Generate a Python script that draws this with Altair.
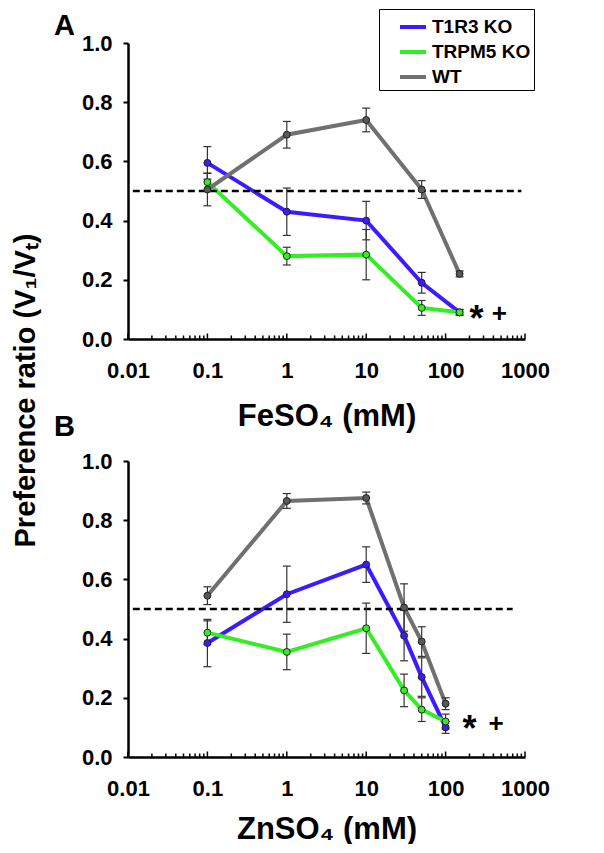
import altair as alt
import pandas as pd

FONT = "Liberation Sans"

# ---------------- data ----------------
genotypes = ["T1R3 KO", "TRPM5 KO", "WT"]
line_colors = ["#3b1cff", "#33ee22", "#707070"]
point_fills = ["#3b1cff", "#33ee22", "#585858"]

fe_conc = [0.1, 1, 10, 50, 150]
fe_t1r3 = [0.595, 0.43, 0.40, 0.19, 0.09]
fe_t1r3_sem = [0.055, 0.08, 0.065, 0.035, 0.01]
fe_trpm5 = [0.53, 0.28, 0.285, 0.105, 0.09]
fe_trpm5_sem = [0.03, 0.03, 0.085, 0.025, 0.008]
fe_wt = [0.505, 0.69, 0.74, 0.505, 0.22]
fe_wt_sem = [0.055, 0.045, 0.04, 0.03, 0.01]

zn_conc = [0.1, 1, 10, 30, 50, 100]
zn_t1r3 = [0.385, 0.55, 0.65, 0.41, 0.27, 0.10]
zn_t1r3_sem = [0.08, 0.095, 0.06, 0.085, 0.065, 0.02]
zn_trpm5 = [0.42, 0.355, 0.435, 0.225, 0.16, 0.12]
zn_trpm5_sem = [0.04, 0.06, 0.085, 0.055, 0.04, 0.025]
zn_wt = [0.545, 0.865, 0.875, 0.505, 0.39, 0.18]
zn_wt_sem = [0.03, 0.025, 0.02, 0.08, 0.05, 0.02]

ref_level = [0.5]
fe_ref_span = [0.0115, 900]
zn_ref_span = [0.0115, 700]

x_major = [0.01, 0.1, 1, 10, 100, 1000]
minor_mult = [2, 3, 4, 5, 6, 7, 8, 9]
y_ticks = [0.0, 0.2, 0.4, 0.6, 0.8, 1.0]

ann_symbols = ["*", "+"]
fe_ann_x = [200, 380]
fe_ann_y = [0.085, 0.085]
zn_ann_x = [163, 347]
zn_ann_y = [0.111, 0.111]

panel_letters = ["A", "B"]
x_titles = ["FeSO₄ (mM)", "ZnSO₄ (mM)"]
y_title = "Preference ratio (V₁/Vₜ)"

# ---------------- helpers ----------------
W, H = 397, 296


def make_df(conc, series):
    rows = []
    for g, (means, sems) in zip(genotypes, series):
        for c, m, s in zip(conc, means, sems):
            rows.append({"conc": c, "genotype": g, "mean": m, "lo": m - s, "hi": m + s})
    return pd.DataFrame(rows)


xs = alt.Scale(type="log", domain=[0.01, 1000], nice=False)
ys = alt.Scale(domain=[0, 1], nice=False, zero=False)
cs = alt.Scale(domain=genotypes, range=line_colors)
fs = alt.Scale(domain=genotypes, range=point_fills)


def X(field, axis=None):
    if axis is None:
        return alt.X(field, scale=xs)
    return alt.X(field, scale=xs, axis=axis)


def Y(field, axis=None):
    if axis is None:
        return alt.Y(field, scale=ys)
    return alt.Y(field, scale=ys, axis=axis)


def panel(df, ref_span, ann_x, ann_y, letter, xtitle, xtitle_y, letter_y, letter_baseline, first):
    x_axis = alt.Axis(
        values=x_major, format="~g", ticks=False, tickSize=0, labelPadding=21,
        labelFont=FONT, labelFontSize=22, labelFontWeight="bold", labelColor="black",
        labelFlush=False, labelOverlap=False, domainColor="black", domainWidth=2.5,
        grid=False, title=xtitle, titleFont=FONT, titleFontSize=31, titleFontWeight="bold",
        titleColor="black", titleY=xtitle_y, titleBaseline="alphabetic",
    )
    if first:
        y_axis = alt.Axis(
            values=y_ticks, format=".1f", tickSize=5, tickWidth=2, tickColor="black",
            labelPadding=11, labelFont=FONT, labelFontSize=22, labelFontWeight="bold",
            labelColor="black", labelFlush=False, domainColor="black", domainWidth=2.5,
            grid=False, title=y_title, titleAngle=270, titleX=-117, titleY=347,
            titleBaseline="top", titleAlign="center", titleFont=FONT, titleFontSize=29,
            titleFontWeight="bold", titleColor="black",
        )
        legend = alt.Legend(
            orient="none", legendX=251, legendY=-34, title=None, symbolType="stroke",
            symbolStrokeWidth=4, symbolSize=676, labelFont=FONT, labelFontSize=19,
            labelFontWeight="bold", labelColor="black", labelOffset=4, symbolOffset=16,
            padding=3, rowPadding=-5, strokeColor="black", fillColor="white",
        )
        color = alt.Color("genotype:N", scale=cs, legend=legend)
    else:
        y_axis = alt.Axis(
            values=y_ticks, format=".1f", tickSize=5, tickWidth=2, tickColor="black",
            labelPadding=11, labelFont=FONT, labelFontSize=22, labelFontWeight="bold",
            labelColor="black", labelFlush=False, domainColor="black", domainWidth=2.5,
            grid=False, title=None,
        )
        color = alt.Color("genotype:N", scale=cs, legend=None)

    ref_df = pd.DataFrame({"x0": [ref_span[0]], "x1": [ref_span[1]], "y": ref_level})
    ref = alt.Chart(ref_df).mark_rule(color="black", strokeWidth=2.5, strokeDash=[7, 4]).encode(
        x=X("x0:Q"), x2="x1:Q", y=Y("y:Q")
    )

    maj_df = pd.DataFrame({"v": x_major})
    min_df = pd.DataFrame({"v": [m * d for d in x_major[:-1] for m in minor_mult]})
    maj = alt.Chart(maj_df).mark_rule(color="black", strokeWidth=1.5).encode(
        x=X("v:Q"), y=alt.value(H), y2=alt.value(H - 5.5)
    )
    mnr = alt.Chart(min_df).mark_rule(color="black", strokeWidth=1.5).encode(
        x=X("v:Q"), y=alt.value(H), y2=alt.value(H - 3.5)
    )

    lines = alt.Chart(df).mark_line(strokeWidth=4).encode(
        x=X("conc:Q", x_axis), y=Y("mean:Q", y_axis), color=color
    )
    err = alt.Chart(df).mark_rule(color="#333333", strokeWidth=1.2).encode(
        x=X("conc:Q"), y=Y("lo:Q"), y2="hi:Q"
    )
    cap_lo = alt.Chart(df).mark_tick(orient="horizontal", size=8, thickness=1.2, color="#333333", opacity=1).encode(
        x=X("conc:Q"), y=Y("lo:Q")
    )
    cap_hi = alt.Chart(df).mark_tick(orient="horizontal", size=8, thickness=1.2, color="#333333", opacity=1).encode(
        x=X("conc:Q"), y=Y("hi:Q")
    )
    pts = alt.Chart(df).mark_circle(size=48, stroke="#222222", strokeWidth=1, opacity=1).encode(
        x=X("conc:Q"), y=Y("mean:Q"), fill=alt.Fill("genotype:N", scale=fs, legend=None)
    )

    ann_df = pd.DataFrame({"x": ann_x, "y": ann_y, "s": ann_symbols})
    star = alt.Chart(ann_df).transform_filter(alt.datum.s == "*").mark_text(
        align="left", baseline="middle", font=FONT, fontSize=36, fontWeight="bold", color="black", dy=6
    ).encode(x=X("x:Q"), y=Y("y:Q"), text="s:N")
    plus = alt.Chart(ann_df).transform_filter(alt.datum.s == "+").mark_text(
        align="left", baseline="middle", font=FONT, fontSize=26, fontWeight="bold", color="black"
    ).encode(x=X("x:Q"), y=Y("y:Q"), text="s:N")

    let_df = pd.DataFrame({"t": [letter]})
    let = alt.Chart(let_df).mark_text(
        align="left", baseline=letter_baseline, font=FONT, fontSize=29, fontWeight="bold", color="black"
    ).encode(x=alt.value(-74), y=alt.value(letter_y), text="t:N")

    return alt.layer(lines, ref, maj, mnr, err, cap_lo, cap_hi, pts, star, plus, let).properties(
        width=W, height=H
    )


fe_df = make_df(fe_conc, [(fe_t1r3, fe_t1r3_sem), (fe_trpm5, fe_trpm5_sem), (fe_wt, fe_wt_sem)])
zn_df = make_df(zn_conc, [(zn_t1r3, zn_t1r3_sem), (zn_trpm5, zn_trpm5_sem), (zn_wt, zn_wt_sem)])

top = panel(fe_df, fe_ref_span, fe_ann_x, fe_ann_y, panel_letters[0], x_titles[0], 86, -31, "top", True)
bottom = panel(zn_df, zn_ref_span, zn_ann_x, zn_ann_y, panel_letters[1], x_titles[1], 81, -25, "alphabetic", False)

chart = (
    alt.vconcat(
        top, bottom, spacing=122, bounds="flush",
        padding={"left": 3, "top": 0, "right": 0, "bottom": 0},
    )
    .resolve_scale(color="independent", fill="independent")
    .configure_view(stroke=None)
)

chart.save("out.html", embed_options={"renderer": "svg", "actions": False})
